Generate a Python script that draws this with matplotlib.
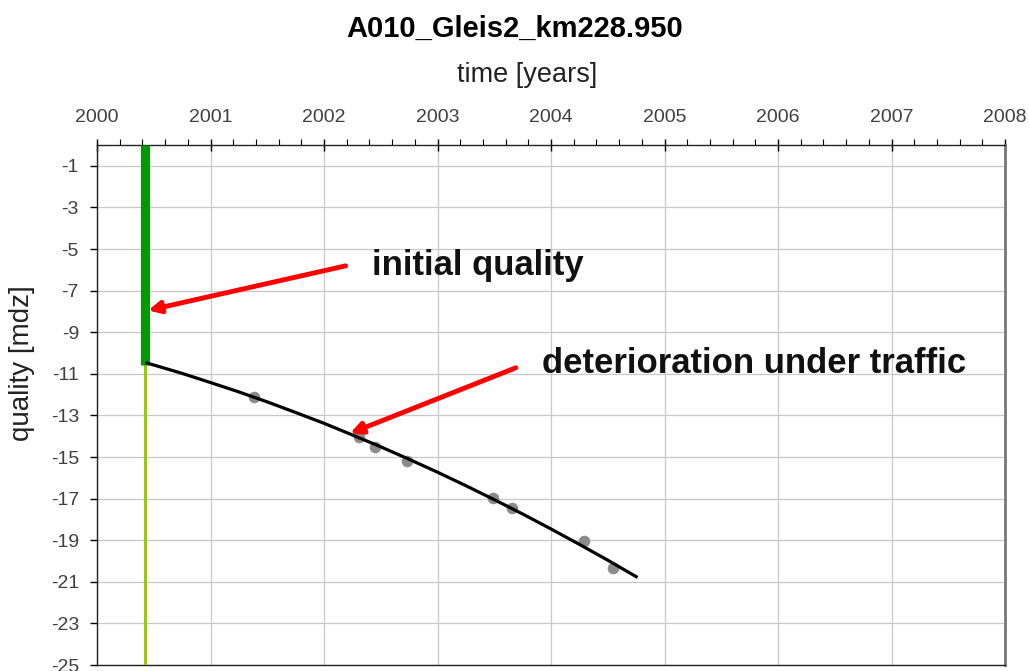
"""Gleisqualität A010_Gleis2_km228.950 — initial quality + deterioration under traffic."""
import matplotlib
matplotlib.use("Agg")
import matplotlib.pyplot as plt
from matplotlib.ticker import MultipleLocator

plt.rcParams["font.family"] = ["Liberation Sans", "DejaVu Sans"]
plt.rcParams["axes.unicode_minus"] = False

TITLE = "A010_Gleis2_km228.950"

# Messpunkte (grau)
meas_year = [2001.38, 2002.31, 2002.45, 2002.73, 2003.49, 2003.66, 2004.29, 2004.55]
meas_q = [-12.11, -14.05, -14.52, -15.21, -16.95, -17.43, -19.05, -20.35]

# Verschlechterungskurve (schwarz)
curve_year = [2000.44, 2000.75, 2001.0, 2001.25, 2001.5, 2001.75, 2002.0, 2002.25, 2002.5,
              2002.75, 2003.0, 2003.25, 2003.5, 2003.75, 2004.0, 2004.25, 2004.5, 2004.75]
curve_q = [-10.48, -10.98, -11.42, -11.87, -12.35, -12.86, -13.38, -13.94, -14.51,
           -15.11, -15.73, -16.38, -17.05, -17.74, -18.46, -19.20, -19.96, -20.75]

# Stopfzeitpunkt / Anfangsqualität
tamp_year = 2000.42
init_top, init_q, bottom_q = 0.0, -10.6, -25.0

year_ticks = list(range(2000, 2009))
q_ticks = list(range(-1, -26, -2))

fig = plt.figure(figsize=(10.29, 6.71), dpi=100)
ax = fig.add_axes([0.0943, 0.0089, 0.8824, 0.775])

ax.set_xlim(2000, 2008)
ax.set_ylim(-25, 0)
ax.xaxis.tick_top()
ax.xaxis.set_label_position("top")
ax.set_xticks(year_ticks)
ax.xaxis.set_minor_locator(MultipleLocator(0.2))
ax.set_yticks(q_ticks)
ax.tick_params(axis="x", which="major", direction="inout", length=9, width=1.0,
               labelsize=14, labelcolor="#404040", pad=9)
ax.tick_params(axis="x", which="minor", direction="out", length=4, width=0.8)
ax.tick_params(axis="y", which="major", direction="out", length=5, width=1.0,
               labelsize=14, labelcolor="#404040", pad=8)
ax.grid(True, which="major", color="#c8c8c8", lw=0.9)
ax.set_axisbelow(True)
for side in ["top", "left", "bottom"]:
    ax.spines[side].set_color("#222222")
    ax.spines[side].set_linewidth(1.0)
ax.spines["right"].set_color("#777777")
ax.spines["right"].set_linewidth(2.0)

# Achsbeschriftungen wie im Original etwas versetzt
ax.set_xlabel("time [years]", fontsize=19.5, color="#222222", va="center")
ax.xaxis.set_label_coords(0.474, 1.135)
ax.set_ylabel("quality [mdz]", fontsize=20, color="#222222", va="center")
ax.yaxis.set_label_coords(-0.083, 0.58)
fig.suptitle(TITLE, fontsize=21, fontweight="bold", y=0.978)

ax.plot([tamp_year, tamp_year], [init_q, bottom_q], color="#99cc00", lw=2.2, zorder=3)
ax.plot([tamp_year, tamp_year], [init_top, init_q], color="#009a00", lw=6.5,
        solid_capstyle="butt", zorder=4)
ax.scatter(meas_year, meas_q, s=70, color="#8c8c8c", zorder=4, linewidths=0)
ax.plot(curve_year, curve_q, color="black", lw=2.3, zorder=5)

arrow = dict(arrowstyle="-|>,head_length=0.7,head_width=0.35", color="#ff0000",
             lw=3.5, shrinkA=0, shrinkB=0)
ax.annotate("", xy=(2000.45, -7.95), xytext=(2002.19, -5.81), arrowprops=arrow, zorder=6)
ax.annotate("", xy=(2002.23, -13.86), xytext=(2003.69, -10.71), arrowprops=arrow, zorder=6)
ax.text(2002.42, -5.8, "initial quality", fontsize=25, fontweight="bold",
        va="center", ha="left", color="#111111")
ax.text(2003.92, -10.5, "deterioration under traffic", fontsize=25, fontweight="bold",
        va="center", ha="left", color="#111111")

fig.savefig("out.png", dpi=100)
